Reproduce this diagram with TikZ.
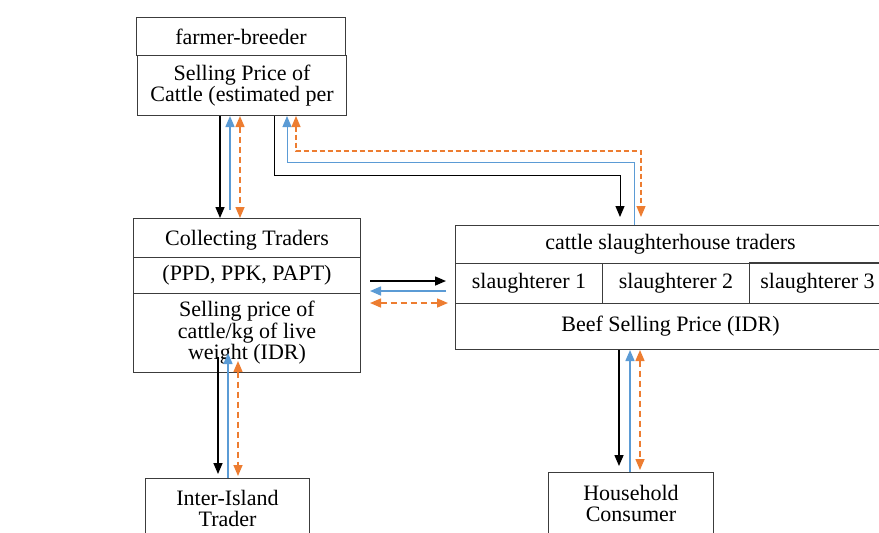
\documentclass[tikz,border=0pt]{standalone}
\usepackage{fontspec}
\setmainfont{Liberation Serif}
\usetikzlibrary{arrows.meta,calc}
\definecolor{flowblue}{RGB}{91,155,213}
\definecolor{floworange}{RGB}{237,125,49}
\definecolor{boxgrey}{RGB}{60,60,60}

\begin{document}
\begin{tikzpicture}[x=0.5pt, y=-0.5pt, font=\fontsize{11}{10.8}\selectfont,
  box/.style={draw=boxgrey, line width=0.5pt, anchor=north west, inner sep=1pt, align=center},
  goods/.style={-{Triangle[width=4.5pt,length=5.5pt]}, line width=0.75pt, black},
  money/.style={-{Triangle[width=4.5pt,length=5.5pt]}, line width=0.75pt, flowblue},
  info/.style={{Triangle[width=4.5pt,length=5.5pt]}-{Triangle[width=4.5pt,length=5.5pt]},
    line width=0.75pt, floworange, dash pattern=on 3pt off 2pt}]
  \useasboundingbox (0,0) rectangle (879,532);
  % Farmer-breeder
  \node[box, minimum width=104.5pt, minimum height=19pt] (breeder) at (136,17) {farmer-breeder};
  \node[box, minimum width=104.5pt, minimum height=30pt] (farmprice) at (137,55)
    {Selling Price of\\Cattle (estimated per};
  % Collecting traders
  \node[box, minimum width=113.5pt, minimum height=19.5pt, text depth=0.5pt] (collect) at (133,218) {Collecting Traders};
  \node[box, minimum width=113.5pt, minimum height=18pt] (codes) at (133,257) {(PPD, PPK, PAPT)};
  \node[box, minimum width=113.5pt, minimum height=39.5pt] (liveprice) at (133,293)
    {Selling price of\\cattle/kg of live\\weight (IDR)};
  % Slaughterhouse
  \node[box, minimum width=215pt, minimum height=19pt] (abattoir) at (455,225) {cattle slaughterhouse traders};
  \node[box, minimum width=73.5pt, minimum height=20pt] (slaughter1) at (455,263) {slaughterer 1};
  \node[box, minimum width=73.5pt, minimum height=20pt] (slaughter2) at (602,263) {slaughterer 2};
  \node[box, minimum width=68pt, minimum height=20.5pt] (slaughter3) at (749,262) {slaughterer 3};
  \node[box, minimum width=215pt, minimum height=23pt] (beefprice) at (455,303) {Beef Selling Price (IDR)};
  % Buyers
  \node[box, minimum width=82pt, minimum height=30pt] (interisland) at (145,478) {Inter-Island\\Trader};
  \node[box, minimum width=82.5pt, minimum height=31pt] (household) at (548,472) {Household\\Consumer};
  % Farmer -> collecting traders
  \draw[goods] (farmprice.south -| 220,0) -- (collect.north -| 220,0);
  \draw[money] ($(collect.north -| 230,0)+(0,-8)$) -- (farmprice.south -| 230,0);
  \draw[info] (farmprice.south -| 240,0) -- (collect.north -| 240,0);
  % Farmer -> slaughterhouse
  \draw[goods, line width=0.5pt, shorten >=4pt] (farmprice.south -| 274,0) -- ++(0,59)
    -| (abattoir.north -| 620,0);
  \draw[money, line width=0.5pt] (abattoir.north -| 634,0) -- ++(0,-63)
    -| (farmprice.south -| 287,0);
  \draw[info, line width=0.6pt, dash pattern=on 2.5pt off 1.5pt] (farmprice.south -| 296,0)
    -- ++(0,35) -| ($(abattoir.north -| 641,0)+(0,-8)$);
  % Collecting traders -> slaughterhouse
  \draw[goods, shorten <=4.5pt, shorten >=4.5pt] (codes.east |- 0,281) -- (slaughter1.west |- 0,281);
  \draw[money, shorten <=4.5pt, shorten >=4.5pt] (slaughter1.west |- 0,291) -- (codes.east |- 0,291);
  \draw[info, shorten <=4.5pt, shorten >=3.5pt] (codes.east |- 0,303) -- (slaughter1.west |- 0,303);
  % Collecting traders -> inter-island trader
  \draw[goods, shorten >=2pt] ($(liveprice.south -| 218,0)+(0,-16)$) -- (interisland.north -| 218,0);
  \draw[money] (interisland.north -| 228,0) -- ($(liveprice.south -| 228,0)+(0,-20)$);
  \draw[info] ($(liveprice.south -| 238,0)+(0,-12)$) -- ($(interisland.north -| 238,0)+(0,-2)$);
  % Slaughterhouse -> household
  \draw[goods, shorten >=3pt] (beefprice.south -| 619,0) -- (household.north -| 619,0);
  \draw[money] (household.north -| 630,0) -- (beefprice.south -| 630,0);
  \draw[info, shorten >=1pt] (beefprice.south -| 640,0) -- (household.north -| 640,0);
\end{tikzpicture}
\end{document}
